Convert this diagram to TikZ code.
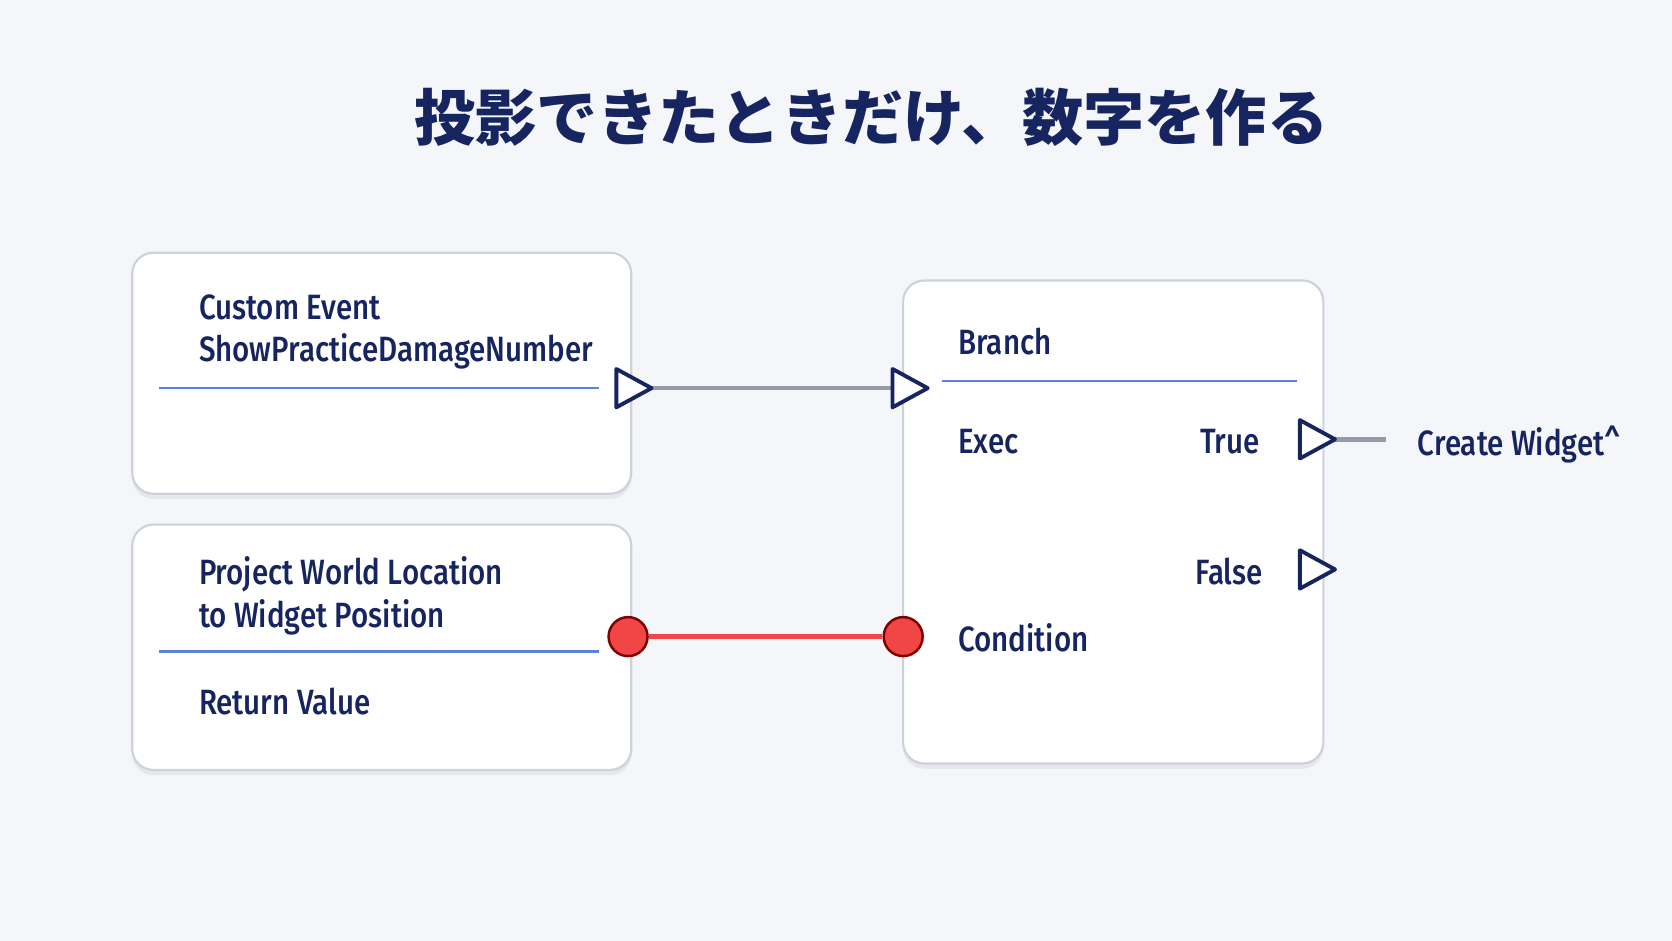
\documentclass[tikz,border=0pt]{standalone}
\usepackage{fontspec}
\setmainfont{Fira Sans Medium}[FakeStretch=0.84]
\newfontfamily\cjk{Noto Sans CJK JP}
\usetikzlibrary{shadows, calc}
\definecolor{navytext}{RGB}{22, 36, 96}
\definecolor{pagegray}{RGB}{244, 246, 249}
\definecolor{rulegray}{RGB}{205, 209, 216}
\definecolor{lineblue}{RGB}{90, 130, 220}
\definecolor{wiregray}{RGB}{150, 156, 166}
\definecolor{pinred}{RGB}{240, 70, 70}
\begin{document}
\begin{tikzpicture}[
    x=0.010663cm, y=-0.010663cm,
    card/.style={draw=rulegray, fill=white, rounded corners=6pt, line width=0.6pt,
        drop shadow={opacity=0.12, shadow xshift=0pt, shadow yshift=-1.5pt}},
    label/.style={anchor=west, text=navytext, font=\fontsize{10}{12}\selectfont},
    sep/.style={draw=lineblue, line width=0.6pt},
    execpin/.style={draw=navytext, fill=white, line width=1.1pt, line join=round},
    datapin/.style={circle, draw=red!50!black, fill=pinred, line width=0.7pt, minimum size=0.39cm, inner sep=0pt},
    wire/.style={draw=wiregray, line width=1.3pt},
    redwire/.style={draw=pinred, line width=1.3pt}
]
    \fill[pagegray] (0,0) rectangle (1568,882);

    % Title
    \node[text=navytext, font=\cjk\bfseries\fontsize{17.4}{21}\selectfont] (title) at (817,110) {投影できたときだけ、数字を作る};

    % Cards
    \draw[card] (124,237) rectangle (592,463);
    \draw[card] (124,492) rectangle (592,722);
    \draw[card] (847,263) rectangle (1241,716);

    % Event card
    \node[label] (event) at (175,288) {Custom Event};
    \node[label] (eventname) at (175,329) {ShowPracticeDamageNumber};
    \draw[sep] (149,364) -- (562,364);

    % Projection card
    \node[label] (proj) at (175,539) {Project World Location};
    \node[label] (proj2) at (175,579) {to Widget Position};
    \draw[sep] (149,611) -- (562,611);
    \node[label] (ret) at (175,658) {Return Value};

    % Branch card
    \node[label] (branch) at (887,320) {Branch};
    \draw[sep] (883,357) -- (1216,357);
    \node[label] (exec) at (887,414) {Exec};
    \node[label, anchor=east] (true) at (1193,414) {True};
    \node[label, anchor=east] (false) at (1196,536) {False};
    \node[label] (cond) at (887,598) {Condition};
    \node[label] (widget) at (1318,417) {Create Widget\textasciicircum};

    % Pins
    \coordinate (evout) at (578,364);
    \coordinate (brin) at (837,364);
    \coordinate (trueout) at (1219,412);
    \coordinate (falseout) at (1219,534);
    \coordinate (widgetin) at (1300,412);
    \draw[wire] ($(evout)+(32,0)$) -- (brin);
    \draw[wire] ($(trueout)+(32,0)$) -- (widgetin);
    \foreach \p in {evout, brin, trueout, falseout}
        \draw[execpin] (\p) ++(0,-18) -- ++(0,36) -- ++(33,-18) -- cycle;
    \node[datapin] (retpin) at (589,597) {};
    \node[datapin] (condpin) at (847,597) {};
    \draw[redwire] (retpin) -- (condpin);
\end{tikzpicture}
\end{document}
